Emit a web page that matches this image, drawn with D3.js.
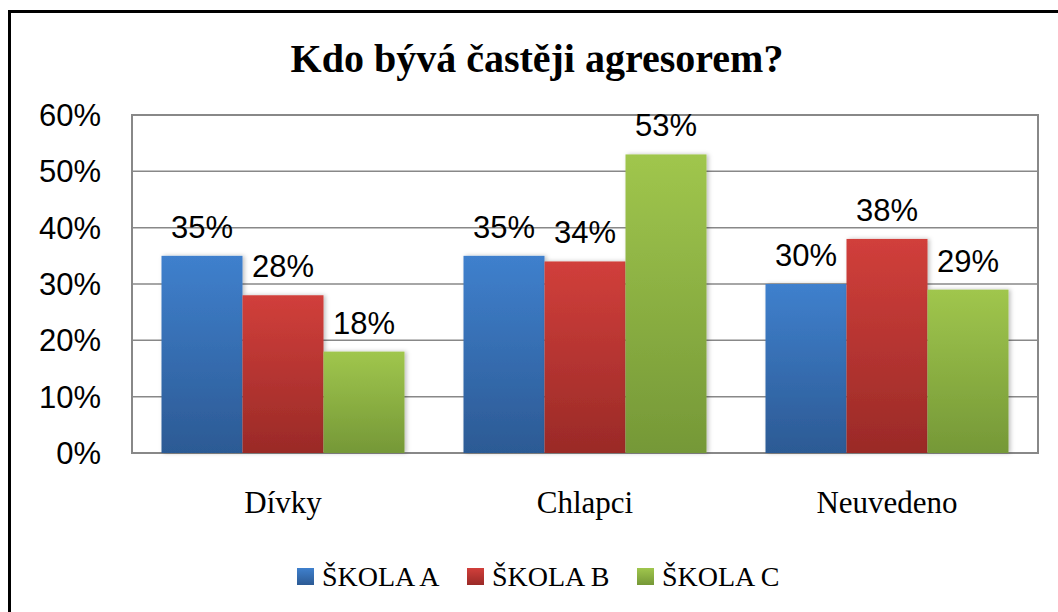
<!DOCTYPE html>
<html>
<head>
<meta charset="utf-8">
<script src="https://cdn.jsdelivr.net/npm/d3@7"></script>
<style>
  body { margin: 0; background: #fff; }
  text { font-family: "Liberation Serif", serif; fill: #000; }
  text.num { font-family: "Liberation Sans", sans-serif; }
</style>
</head>
<body>
<svg width="1058" height="612"></svg>
<script>
var categories = ["Dívky", "Chlapci", "Neuvedeno"];
var series = ["ŠKOLA A", "ŠKOLA B", "ŠKOLA C"];
var skolaA = [0.35, 0.35, 0.30];
var skolaB = [0.28, 0.34, 0.38];
var skolaC = [0.18, 0.53, 0.29];
var yTicks = [0, 0.1, 0.2, 0.3, 0.4, 0.5, 0.6];
var title = "Kdo bývá častěji agresorem?";

var values = [skolaA, skolaB, skolaC];
var colors = [["#3f80cd", "#2c5a94"], ["#d13f3b", "#9a2a27"], ["#a0c64d", "#759837"]];

var svg = d3.select("svg");

svg.append("rect").attr("width", 1058).attr("height", 612).attr("fill", "#fff");

var defs = svg.append("defs");
colors.forEach(function(c, i) {
    var gr = defs.append("linearGradient")
        .attr("id", "grad" + i)
        .attr("x1", 0).attr("y1", 0).attr("x2", 0).attr("y2", 1);
    gr.append("stop").attr("offset", "0%").attr("stop-color", c[0]);
    gr.append("stop").attr("offset", "100%").attr("stop-color", c[1]);
});
defs.append("filter")
    .attr("id", "shadow")
    .attr("x", "-10%").attr("y", "-10%").attr("width", "130%").attr("height", "120%")
    .append("feDropShadow")
    .attr("dx", 2).attr("dy", 0).attr("stdDeviation", 2)
    .attr("flood-color", "#000").attr("flood-opacity", 0.25);

// outer chart border (left + top visible)
svg.append("path")
    .attr("d", "M9.5,612 L9.5,11.5 L1058,11.5")
    .attr("fill", "none")
    .attr("stroke", "#000")
    .attr("stroke-width", 3);

var x0 = d3.scaleBand().domain(categories).range([132, 1038]);
var x1 = d3.scaleBand().domain(series).range([29.5, x0.bandwidth() - 29.5]);
var y = d3.scaleLinear().domain([0, 0.6]).range([453, 115]);
var fmt = d3.format(".0%");

svg.append("text")
    .attr("x", 537)
    .attr("y", 72)
    .attr("text-anchor", "middle")
    .attr("font-size", 40)
    .attr("font-weight", "bold")
    .text(title);

// gridlines
svg.append("g")
    .selectAll("line")
    .data(yTicks)
    .enter().append("line")
    .attr("x1", 132).attr("x2", 1038)
    .attr("y1", function(d) { return y(d); })
    .attr("y2", function(d) { return y(d); })
    .attr("stroke", "#888")
    .attr("stroke-width", 1.5);

svg.append("rect")
    .attr("x", 132).attr("y", 115)
    .attr("width", 906).attr("height", 338)
    .attr("fill", "none")
    .attr("stroke", "#888")
    .attr("stroke-width", 2);

// y labels
svg.append("g")
    .selectAll("text")
    .data(yTicks)
    .enter().append("text")
    .attr("class", "num")
    .attr("x", 101)
    .attr("y", function(d) { return y(d) + 11; })
    .attr("text-anchor", "end")
    .attr("font-size", 31)
    .text(function(d) { return fmt(d); });

// bars
var groups = svg.append("g")
    .selectAll("g")
    .data(categories)
    .enter().append("g")
    .attr("transform", function(d) { return "translate(" + x0(d) + ",0)"; });

function rows(d, ci) {
    return series.map(function(s, si) { return { s: s, si: si, v: values[si][ci] }; });
}

groups.selectAll("rect")
    .data(rows)
    .enter().append("rect")
    .attr("x", function(d) { return x1(d.s); })
    .attr("y", function(d) { return y(d.v); })
    .attr("width", x1.bandwidth())
    .attr("height", function(d) { return y(0) - y(d.v); })
    .attr("fill", function(d) { return "url(#grad" + d.si + ")"; })
    .attr("filter", "url(#shadow)");

groups.selectAll("text.val")
    .data(rows)
    .enter().append("text")
    .attr("class", "val num")
    .attr("x", function(d) { return x1(d.s) + x1.bandwidth() / 2; })
    .attr("y", function(d) { return y(d.v) - 18; })
    .attr("text-anchor", "middle")
    .attr("font-size", 31)
    .text(function(d) { return fmt(d.v); });

// category labels
svg.append("g")
    .selectAll("text")
    .data(categories)
    .enter().append("text")
    .attr("x", function(d) { return x0(d) + x0.bandwidth() / 2; })
    .attr("y", 513)
    .attr("text-anchor", "middle")
    .attr("font-size", 31)
    .text(function(d) { return d; });

// legend
var legend = svg.append("g")
    .selectAll("g")
    .data(series)
    .enter().append("g")
    .attr("transform", function(d, i) { return "translate(" + (297 + i * 170) + ",568)"; });

legend.append("rect")
    .attr("width", 17).attr("height", 17)
    .attr("fill", function(d, i) { return "url(#grad" + i + ")"; });

legend.append("text")
    .attr("x", 25)
    .attr("y", 18)
    .attr("font-size", 28)
    .text(function(d) { return d; });
</script>
</body>
</html>
